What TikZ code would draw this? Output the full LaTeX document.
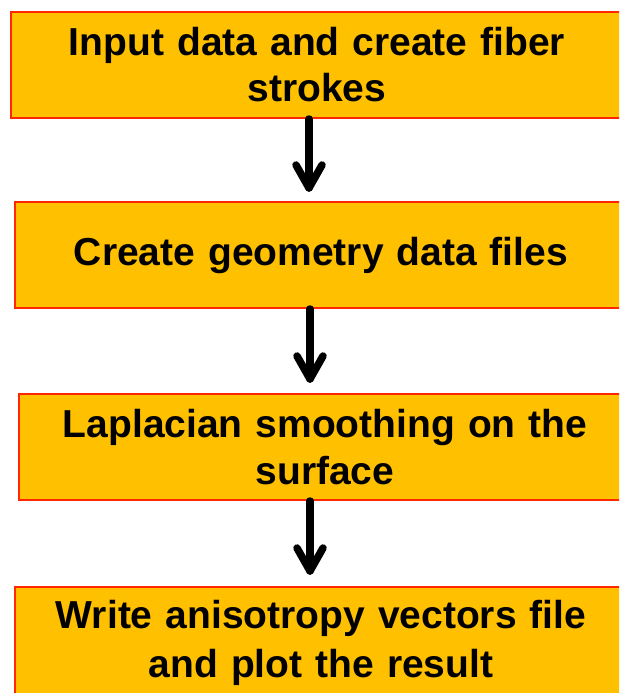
\documentclass[tikz,border=0pt]{standalone}
\usepackage{fontspec}
\setmainfont{Liberation Sans}
\begin{document}
\begin{tikzpicture}[x=1pt,y=-1pt,
  stepbox/.style={draw={rgb,255:red,255;green,40;blue,0}, line width=2pt,
    fill={rgb,255:red,255;green,192;blue,0}, minimum width=612pt, minimum height=106pt,
    text width=600pt, align=center, inner sep=0pt,
    font=\bfseries\fontsize{39}{46}\selectfont},
  arrowline/.style={line width=7.5pt, line cap=round, line join=round, black}]
\useasboundingbox (0,0) rectangle (619,693);
\clip (0,0) rectangle (619,693);
\node[stepbox] (b1) at (317,65) {Input data and create fiber\\strokes};
\node[stepbox] (b2) at (321,255) {Create geometry data files};
\node[stepbox, font=\bfseries\fontsize{39}{47}\selectfont] (b3) at (325,447) {Laplacian smoothing on the\\surface};
\node[stepbox, minimum height=112pt, font=\bfseries\fontsize{39}{49}\selectfont] (b4) at (321,643) {Write anisotropy vectors file\\and plot the result};
\coordinate (t1) at (309,188);
\coordinate (t2) at (310,379);
\coordinate (t3) at (310,571);
\draw[arrowline] (b1.south -| t1) -- (t1);
\draw[arrowline] ([xshift=-13pt,yshift=23pt]t1) -- (t1) -- ([xshift=13pt,yshift=23pt]t1);
\draw[arrowline] (b2.south -| t2) -- (t2);
\draw[arrowline] ([xshift=-13pt,yshift=23pt]t2) -- (t2) -- ([xshift=13pt,yshift=23pt]t2);
\draw[arrowline] (b3.south -| t3) -- (t3);
\draw[arrowline] ([xshift=-13pt,yshift=23pt]t3) -- (t3) -- ([xshift=13pt,yshift=23pt]t3);
\end{tikzpicture}
\end{document}
